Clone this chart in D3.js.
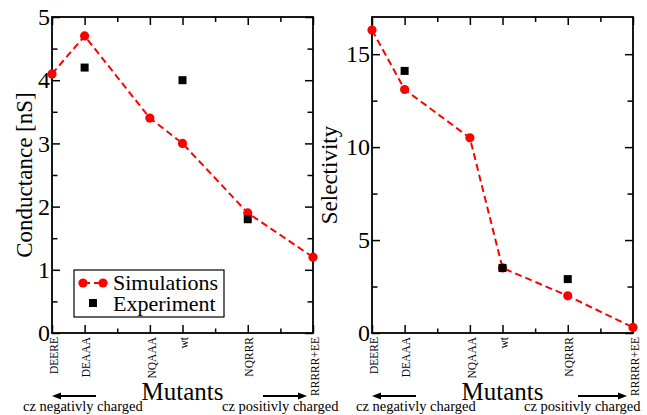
<!DOCTYPE html>
<html>
<head>
<meta charset="utf-8">
<script src="https://cdn.jsdelivr.net/npm/d3@7"></script>
<style>
  body { margin: 0; background: #fff; }
  svg { display: block; font-family: "Liberation Serif", "Times New Roman", serif; }
</style>
</head>
<body>
<div id="chart"></div>
<script>
// mutants along the x axis and where they sit on it
var mutants = ["DEERE", "DEAAA", "NQAAA", "wt", "NQRRR", "RRRRR+EE"];
var mutantX = [0, 1, 3, 4, 6, 8];
var minorX = [2, 5, 7];

// conductance [nS]
var condSim = [4.1, 4.7, 3.4, 3.0, 1.9, 1.2];
var condExp = [null, 4.2, null, 4.0, 1.8, null];

// selectivity
var selSim = [16.3, 13.1, 10.5, 3.5, 2.0, 0.3];
var selExp = [null, 14.1, null, 3.5, 2.9, null];

var condTicks = [0, 1, 2, 3, 4, 5];
var condMinor = [0.5, 1.5, 2.5, 3.5, 4.5];
var selTicks = [0, 5, 10, 15];
var selMinor = [2.5, 7.5, 12.5];

var W = 647, H = 415;
var plotTop = 17, plotBottom = 333;

var svg = d3.select("#chart").append("svg")
    .attr("width", W)
    .attr("height", H);

// one panel of the figure
function Panel(opt) {
    var g = svg.append("g");
    var x = d3.scaleLinear().domain([0, 8]).range([opt.x0, opt.x1]);
    var y = d3.scaleLinear().domain(opt.ydomain).range([plotBottom, plotTop]);

    // ticks on all four sides, pointing inwards
    function ax(axis, tr) {
        var a = g.append("g").attr("transform", tr).call(axis);
        a.select(".domain").remove();
        a.selectAll("line").attr("stroke", "#000").attr("stroke-width", 1.5);
        return a;
    }
    var bx = ax(d3.axisBottom(x).tickValues(mutantX).tickSize(-8).tickPadding(4)
        .tickFormat(function (d, i) { return mutants[i]; }), "translate(0," + plotBottom + ")");
    bx.selectAll("text")
        .attr("transform", "rotate(-90)")
        .attr("x", -4).attr("y", 1).attr("dy", "0.36em")
        .style("text-anchor", "end")
        .style("font-family", "Liberation Serif")
        .style("font-size", "11.5px").attr("fill", "#000");
    ax(d3.axisBottom(x).tickValues(minorX).tickSize(-4.5).tickFormat(""), "translate(0," + plotBottom + ")");
    ax(d3.axisTop(x).tickValues(mutantX).tickSize(-8).tickFormat(""), "translate(0," + plotTop + ")");
    ax(d3.axisTop(x).tickValues(minorX).tickSize(-5).tickFormat(""), "translate(0," + plotTop + ")");

    var ly = ax(d3.axisLeft(y).tickValues(opt.yticks).tickSize(-8).tickPadding(2)
        .tickFormat(d3.format("d")), "translate(" + opt.x0 + ",0)");
    ly.selectAll("text")
        .style("font-family", "Liberation Serif")
        .style("font-size", "24px").attr("fill", "#000");
    ax(d3.axisLeft(y).tickValues(opt.yminor).tickSize(-5.5).tickFormat(""), "translate(" + opt.x0 + ",0)");
    ax(d3.axisRight(y).tickValues(opt.yticks).tickSize(-8).tickFormat(""), "translate(" + opt.x1 + ",0)");
    ax(d3.axisRight(y).tickValues(opt.yminor).tickSize(-5.5).tickFormat(""), "translate(" + opt.x1 + ",0)");

    g.append("rect")
        .attr("x", opt.x0).attr("y", plotTop)
        .attr("width", opt.x1 - opt.x0).attr("height", plotBottom - plotTop)
        .attr("fill", "none").attr("stroke", "#000").attr("stroke-width", 1.8);

    // simulations: dashed line + circles
    var line = d3.line()
        .x(function (d, i) { return x(mutantX[i]); })
        .y(function (d) { return y(d); });
    g.append("path")
        .datum(opt.sim)
        .attr("d", line)
        .attr("fill", "none")
        .attr("stroke", "#ff0000")
        .attr("stroke-width", 2)
        .attr("stroke-dasharray", "7,4");
    g.selectAll(".sim").data(opt.sim).enter().append("circle")
        .attr("cx", function (d, i) { return x(mutantX[i]); })
        .attr("cy", function (d) { return y(d); })
        .attr("r", 4.6)
        .attr("fill", "#ff0000");

    // experiment: black squares
    var exp = [];
    opt.exp.forEach(function (d, i) { if (d != null) exp.push([mutantX[i], d]); });
    g.selectAll(".exp").data(exp).enter().append("rect")
        .attr("x", function (d) { return x(d[0]) - 4; })
        .attr("y", function (d) { return y(d[1]) - 4; })
        .attr("width", 8).attr("height", 8)
        .attr("fill", "#000");

    // axis titles
    var cy = (plotTop + plotBottom) / 2;
    g.append("text")
        .attr("transform", "translate(" + opt.ylabelX + "," + cy + ") rotate(-90)")
        .attr("text-anchor", "middle")
        .style("font-size", "23px")
        .text(opt.ylabel);
    g.append("text")
        .attr("x", (opt.x0 + opt.x1) / 2).attr("y", 400)
        .attr("text-anchor", "middle")
        .style("font-size", "25px")
        .text("Mutants");

    // charge arrows
    Arrow(opt.x0 + 44, opt.x0, 396);
    Arrow(opt.x1 - opt.rArrow, opt.x1 - 6, 396);
    g.append("text").attr("x", opt.negX).attr("y", 411)
        .style("font-size", "14.5px").text("cz negativly charged");
    g.append("text").attr("x", opt.posX).attr("y", 411)
        .style("font-size", "14.5px").text("cz positivly charged");

    return { g: g, x: x, y: y };
}

function Arrow(from, to, yy) {
    var dir = to > from ? 1 : -1;
    svg.append("line")
        .attr("x1", from).attr("y1", yy)
        .attr("x2", to - dir * 7).attr("y2", yy)
        .attr("stroke", "#000").attr("stroke-width", 2);
    svg.append("path")
        .attr("d", "M" + to + "," + yy + "L" + (to - dir * 9) + "," + (yy - 3.5) + "L" + (to - dir * 9) + "," + (yy + 3.5) + "Z")
        .attr("fill", "#000");
}

var left = Panel({
    x0: 52, x1: 313,
    ydomain: [0, 5], yticks: condTicks, yminor: condMinor,
    sim: condSim, exp: condExp,
    ylabel: "Conductance [nS]", ylabelX: 32,
    rArrow: 50, negX: 23, posX: 222
});

var right = Panel({
    x0: 372, x1: 633,
    ydomain: [0, 17], yticks: selTicks, yminor: selMinor,
    sim: selSim, exp: selExp,
    ylabel: "Selectivity", ylabelX: 337,
    rArrow: 55, negX: 356, posX: 524
});

// legend (left panel)
var lg = left.g.append("g");
lg.append("rect")
    .attr("x", 74).attr("y", 270).attr("width", 150).attr("height", 47)
    .attr("fill", "#fff").attr("stroke", "#000").attr("stroke-width", 1.2);
lg.append("line")
    .attr("x1", 83).attr("x2", 103).attr("y1", 283).attr("y2", 283)
    .attr("stroke", "#ff0000").attr("stroke-width", 2).attr("stroke-dasharray", "7,4");
lg.selectAll(".lc").data([83, 103]).enter().append("circle")
    .attr("cx", function (d) { return d; }).attr("cy", 283).attr("r", 4.6)
    .attr("fill", "#ff0000");
lg.append("rect").attr("x", 89).attr("y", 299).attr("width", 8).attr("height", 8).attr("fill", "#000");
lg.append("text").attr("x", 113).attr("y", 290).style("font-size", "22px").text("Simulations");
lg.append("text").attr("x", 113).attr("y", 311).style("font-size", "22px").text("Experiment");
</script>
</body>
</html>
